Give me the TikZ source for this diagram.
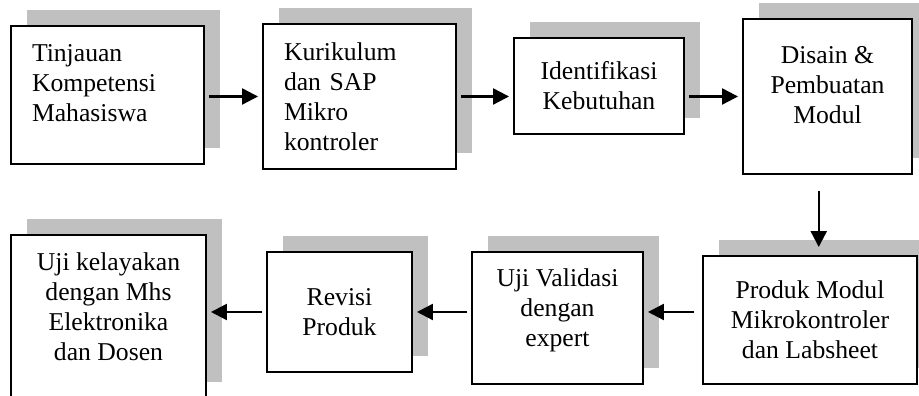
\documentclass[tikz,border=0pt]{standalone}
\usepackage{fontspec}
\setmainfont{Liberation Serif}
\usepackage{tikz}
\usetikzlibrary{shadows,arrows.meta,calc}
\usepackage{xcolor}
\definecolor{shadowgray}{HTML}{c0c0c0}

\tikzset{
  stagebox/.style={draw=black, fill=white, line width=1.1pt, align=center,
    font=\fontsize{14.6pt}{17pt}\selectfont,
    general shadow={fill=shadowgray, shadow xshift=0.32cm, shadow yshift=0.32cm}},
  flowarrow/.style={line width=1.3pt, -{Triangle[length=0.32cm, width=0.32cm]},
    shorten <=0.08cm, shorten >=0.08cm}
}

\begin{document}
\begin{tikzpicture}

  % page frame
  \path[use as bounding box, clip] (0,0) rectangle (18.38,7.92);

  % top row
  \node [stagebox, minimum width=3.86cm, minimum height=2.76cm, text width=3.02cm, align=left]
    (tinjauan) at (2.15, 6.02) {Tinjauan\\Kompetensi\\Mahasiswa\\[-0.13cm]\mbox{}};

  \node [stagebox, minimum width=3.86cm, minimum height=2.90cm, text width=3.02cm, align=left]
    (kurikulum) at (7.19, 5.99) {Kurikulum\\dan SAP\\Mikro\\kontroler};

  \node [stagebox, minimum width=3.40cm, minimum height=1.92cm]
    (identifikasi) at (11.98, 6.20) {Identifikasi\\Kebutuhan};

  \node [stagebox, minimum width=3.38cm, minimum height=3.10cm]
    (disain) at (16.55, 5.99) {Disain \&\\Pembuatan\\Modul\\[-0.15cm]\mbox{}};

  % bottom row
  \node [stagebox, minimum width=4.28cm, minimum height=2.56cm]
    (produk) at (16.20, 1.52) {Produk Modul\\Mikrokontroler\\dan Labsheet};

  \node [stagebox, minimum width=3.42cm, minimum height=2.64cm]
    (validasi) at (11.15, 1.56) {Uji Validasi\\dengan\\expert\\[-0.17cm]\mbox{}};

  \node [stagebox, minimum width=2.90cm, minimum height=2.40cm]
    (revisi) at (6.79, 1.68) {Revisi\\Produk};

  \node [stagebox, minimum width=3.90cm, minimum height=3.26cm]
    (kelayakan) at (2.17, 1.59) {Uji kelayakan\\dengan Mhs\\Elektronika\\dan Dosen\\[-0.19cm]\mbox{}};

  % arrows top row
  \draw [flowarrow] (tinjauan.east |- kurikulum.west) -- (kurikulum.west);
  \draw [flowarrow] (kurikulum.east) -- (kurikulum.east -| identifikasi.west);
  \draw [flowarrow] (identifikasi.east |- disain.west) -- (disain.west);

  % down to second row
  \coordinate (turn) at ($(disain.south)!0.5!(produk.north)$);
  \draw [flowarrow, shorten <=0.32cm, shorten >=0.16cm] (turn |- disain.south) -- (turn |- produk.north);

  % arrows bottom row
  \draw [flowarrow, shorten <=0.16cm] (produk.west |- revisi.east) -- (validasi.east |- revisi.east);
  \draw [flowarrow] (validasi.west |- revisi.east) -- (revisi.east);
  \draw [flowarrow] (revisi.west) -- (revisi.west -| kelayakan.east);

\end{tikzpicture}
\end{document}
